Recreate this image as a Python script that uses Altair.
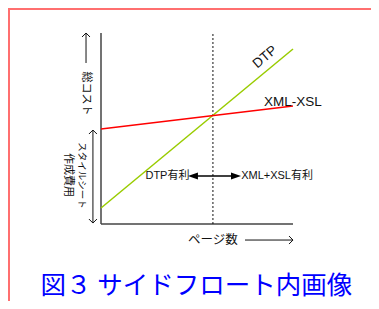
import altair as alt
import pandas as pd

# ---- data (values in diagram units: axis box spans 0..100 on both axes) ----
line_x = [0, 100]
dtp_y = [8.4, 91.6]
xml_y = [49.7, 61.8]
breakeven_x = 58.3

series_labels = ["DTP", "XML-XSL"]
series_label_x = [85.4, 100.0]
series_label_y = [87.4, 63.9]

region_labels = ["DTP有利", "XML+XSL有利"]
region_label_x = [34.6, 91.7]
region_label_y = [25.1, 25.1]
region_arrow_x = [47.9, 70.3]

xlabel_text = "ページ数"
ylabel_top = "総コスト"
ylabel_bottom = ["スタイルシート", "作成費用"]
title_text = "図３ サイドフロート内画像"

# ---- layout (plot area in pixels) ----
W, H = 363, 293
X0, XPX = 93, 1.92      # svg x of data 0, px per unit
Y0, YPX = 216, 1.91     # svg y of data 0, px per unit
xdom = [-X0 / XPX, (W - X0) / XPX]
ydom = [(Y0 - H) / YPX, Y0 / YPX]

xs = alt.Scale(domain=xdom, nice=False, zero=False)
ys = alt.Scale(domain=ydom, nice=False, zero=False)

LAT = "Liberation Sans, Noto Sans CJK JP, sans-serif"
CJK = "Noto Sans CJK JP, sans-serif"


def X(f="x"):
    return alt.X(f"{f}:Q", scale=xs, axis=None)


def Y(f="y"):
    return alt.Y(f"{f}:Q", scale=ys, axis=None)


layers = []

# frame
frame_color = "#ff6f6f"
layers.append(alt.Chart(pd.DataFrame({"a": [0]})).mark_rule(color=frame_color, strokeWidth=2).encode(
    x=alt.value(0), x2=alt.value(W), y=alt.value(1)))
layers.append(alt.Chart(pd.DataFrame({"a": [0]})).mark_rule(color=frame_color, strokeWidth=2).encode(
    x=alt.value(1), y=alt.value(0), y2=alt.value(H)))

# axes box lines
axes = pd.DataFrame({"x": [0, 0], "x2": [0, 100], "y": [0, 0], "y2": [100, 0]})
layers.append(alt.Chart(axes).mark_rule(color="#444444", strokeWidth=1.5).encode(
    x=X(), x2="x2:Q", y=Y(), y2="y2:Q"))

# breakeven dotted line
be = pd.DataFrame({"x": [breakeven_x], "y": [0], "y2": [100]})
layers.append(alt.Chart(be).mark_rule(color="#111111", strokeWidth=1, strokeDash=[2, 2]).encode(
    x=X(), y=Y(), y2="y2:Q"))

# cost lines
dtp = pd.DataFrame({"x": line_x, "y": dtp_y})
xml = pd.DataFrame({"x": line_x, "y": xml_y})
layers.append(alt.Chart(dtp).mark_line(color="#99cc00", strokeWidth=1.5).encode(x=X(), y=Y()))
layers.append(alt.Chart(xml).mark_line(color="#ff0000", strokeWidth=1.5).encode(x=X(), y=Y()))

# series labels
layers.append(alt.Chart(pd.DataFrame({"x": [series_label_x[0]], "y": [series_label_y[0]], "t": [series_labels[0]]}))
              .mark_text(font=LAT, fontSize=13.5, angle=320, color="#111111", align="center", baseline="middle")
              .encode(x=X(), y=Y(), text="t:N"))
layers.append(alt.Chart(pd.DataFrame({"x": [series_label_x[1]], "y": [series_label_y[1]], "t": [series_labels[1]]}))
              .mark_text(font=LAT, fontSize=13.5, color="#111111", align="center", baseline="middle")
              .encode(x=X(), y=Y(), text="t:N"))

# region labels and double arrow
layers.append(alt.Chart(pd.DataFrame({"x": region_label_x, "y": region_label_y, "t": region_labels}))
              .mark_text(font=LAT, fontSize=11, color="#111111", align="center", baseline="middle")
              .encode(x=X(), y=Y(), text="t:N"))
arr = pd.DataFrame({"x": [region_arrow_x[0]], "x2": [region_arrow_x[1]], "y": [region_label_y[0]]})
layers.append(alt.Chart(arr).mark_rule(color="#000000", strokeWidth=1.5).encode(x=X(), x2="x2:Q", y=Y()))
heads = pd.DataFrame({"x": region_arrow_x, "y": region_label_y[:2]})
tri_l = "M-1,0L1,-0.7L1,0.7Z"
tri_r = "M1,0L-1,-0.7L-1,0.7Z"
layers.append(alt.Chart(heads.iloc[[0]]).mark_point(shape=tri_l, filled=True, color="#000000", size=100, opacity=1)
              .encode(x=X(), y=Y()))
layers.append(alt.Chart(heads.iloc[[1]]).mark_point(shape=tri_r, filled=True, color="#000000", size=100, opacity=1)
              .encode(x=X(), y=Y()))

# x axis label with arrow
layers.append(alt.Chart(pd.DataFrame({"x": [58.3], "y": [-8.4], "t": [xlabel_text]}))
              .mark_text(font=CJK, fontSize=12.5, color="#111111", align="center", baseline="middle")
              .encode(x=X(), y=Y(), text="t:N"))
xarr = pd.DataFrame({"x": [75.0], "x2": [100.0], "y": [-8.4]})
layers.append(alt.Chart(xarr).mark_rule(color="#111111", strokeWidth=1).encode(x=X(), x2="x2:Q", y=Y()))
chev_r = "M-1,-1L0,0L-1,1"
chev_u = "M-1,1L0,0L1,1"
chev_d = "M-1,-1L0,0L1,-1"
layers.append(alt.Chart(pd.DataFrame({"x": [100.0], "y": [-8.4]}))
              .mark_point(shape=chev_r, filled=False, color="#111111", size=64, strokeWidth=1, opacity=1)
              .encode(x=X(), y=Y()))

# y axis labels
layers.append(alt.Chart(pd.DataFrame({"x": [-7.8], "y": [68.3], "t": [ylabel_top]}))
              .mark_text(font=CJK, fontSize=11, angle=90, color="#111111", align="center", baseline="middle")
              .encode(x=X(), y=Y(), text="t:N"))
yarr = pd.DataFrame({"x": [-7.8], "y": [84.3], "y2": [100.0]})
layers.append(alt.Chart(yarr).mark_rule(color="#111111", strokeWidth=1).encode(x=X(), y=Y(), y2="y2:Q"))
layers.append(alt.Chart(pd.DataFrame({"x": [-7.8], "y": [100.0]}))
              .mark_point(shape=chev_u, filled=False, color="#111111", size=64, strokeWidth=1, opacity=1)
              .encode(x=X(), y=Y()))

layers.append(alt.Chart(pd.DataFrame({"x": [-9.9], "y": [25.4], "t": [ylabel_bottom[0]]}))
              .mark_text(font=CJK, fontSize=9.5, angle=90, color="#111111", align="center", baseline="middle")
              .encode(x=X(), y=Y(), text="t:N"))
layers.append(alt.Chart(pd.DataFrame({"x": [-17.2], "y": [25.7], "t": [ylabel_bottom[1]]}))
              .mark_text(font=CJK, fontSize=11, angle=90, color="#111111", align="center", baseline="middle")
              .encode(x=X(), y=Y(), text="t:N"))
varr = pd.DataFrame({"x": [-4.2], "y": [0.5], "y2": [49.2]})
layers.append(alt.Chart(varr).mark_rule(color="#111111", strokeWidth=1).encode(x=X(), y=Y(), y2="y2:Q"))
layers.append(alt.Chart(pd.DataFrame({"x": [-4.2], "y": [49.2]}))
              .mark_point(shape=chev_u, filled=False, color="#111111", size=64, strokeWidth=1, opacity=1)
              .encode(x=X(), y=Y()))
layers.append(alt.Chart(pd.DataFrame({"x": [-4.2], "y": [0.5]}))
              .mark_point(shape=chev_d, filled=False, color="#111111", size=64, strokeWidth=1, opacity=1)
              .encode(x=X(), y=Y()))

# caption
layers.append(alt.Chart(pd.DataFrame({"x": [49.7], "y": [-32.3], "t": [title_text]}))
              .mark_text(font=CJK, fontSize=25.5, color="#0000ff", align="center", baseline="middle")
              .encode(x=X(), y=Y(), text="t:N"))

chart = alt.layer(*layers).properties(
    width=W, height=H, autosize=alt.AutoSizeParams(type="none"), padding=0
).configure_view(stroke=None)

chart.save("out.html", embed_options={"renderer": "svg", "actions": False})
